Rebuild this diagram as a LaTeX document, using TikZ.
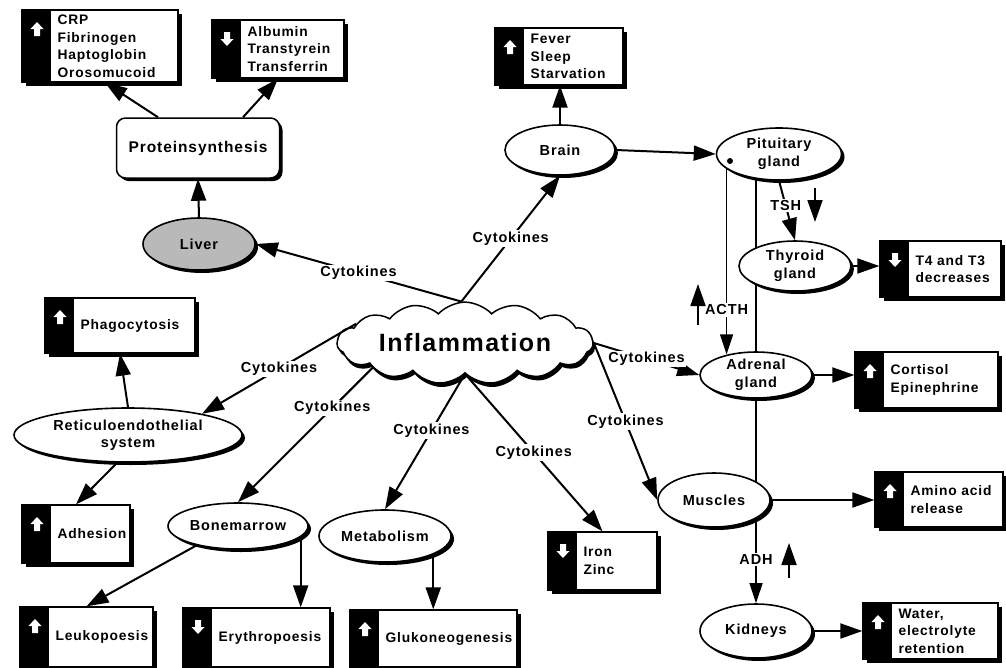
\documentclass[tikz,border=0pt]{standalone}
\usepackage{fontspec}
\setmainfont{Liberation Sans}[LetterSpace=6]
\usetikzlibrary{arrows.meta,shapes.geometric,shapes.symbols,shadows,fit,calc}
\pgfdeclarelayer{bg}
\pgfsetlayers{bg,main}
\tikzset{
  every node/.style={font=\bfseries\fontsize{14.5}{17.5}\selectfont},
  shad/.style={drop shadow={shadow xshift=3pt,shadow yshift=-3pt,opacity=1,fill=black}},
  organ/.style={ellipse, draw, line width=1.6pt, fill=white, shad, inner sep=0pt, align=center},
  sbox/.style={draw, line width=1.3pt, fill=white, inner sep=0pt,
    drop shadow={shadow xshift=4pt,shadow yshift=-4pt,opacity=1,fill=black}},
  conn/.style={line width=2pt, -{Triangle[length=22pt,width=15pt]}},
  thinconn/.style={line width=1.3pt, -{Triangle[length=20pt,width=13pt]}},
  lonearrow/.style={line width=1.8pt, -{Triangle[length=22pt,width=15pt]}},
  lbl/.style={fill=white, inner sep=1.5pt},
  btext/.style={align=left, inner sep=0pt, font=\bfseries\fontsize{13.8}{17.5}\selectfont},
}
\newcommand\upsym[2]{\fill[white] (#1-6.5,#2) -- (#1,#2-7) -- (#1+6.5,#2) -- (#1+3,#2) -- (#1+3,#2+7) -- (#1-3,#2+7) -- (#1-3,#2) -- cycle;}
\newcommand\downsym[2]{\fill[white] (#1-6.5,#2) -- (#1,#2+7) -- (#1+6.5,#2) -- (#1+3,#2) -- (#1+3,#2-7) -- (#1-3,#2-7) -- (#1-3,#2) -- cycle;}
\newcommand\statbox[7]{%
  \node[sbox, fit={(#2,#3)(#4,#5)}] (#1) {};
  \fill (#1.north west) rectangle ([xshift=30pt]#1.south west);
  #6{#2+15}{#3+19}
  \node[btext, anchor=west] at ([xshift=36pt]#1.west) {#7};
}
\begin{document}
\begin{tikzpicture}[x=1pt,y=-1pt]
\useasboundingbox (0,0) rectangle (1006,667);
\begin{pgfonlayer}{bg}
\fill[white] (0,0) rectangle (1006,667);
\end{pgfonlayer}

% central cloud
\node[cloud, cloud puffs=15, cloud puff arc=95, aspect=4, draw, line width=1.5pt, fill=white,
  minimum width=256pt, minimum height=66pt, inner sep=0pt,
  drop shadow={shadow xshift=2pt,shadow yshift=-4pt,opacity=1,fill=black},
  font=\bfseries\fontsize{25}{30}\selectfont] (cloud) at (465,343) {Inflammation};

% organs
\node[organ, minimum width=110pt, minimum height=50pt] (brain) at (560,150) {Brain};
\node[organ, minimum width=125pt, minimum height=52pt] (pit) at (779,154) {Pituitary\\gland};
\node[organ, minimum width=112pt, minimum height=50pt] (thy) at (795,266) {Thyroid\\gland};
\node[organ, minimum width=112pt, minimum height=46pt] (adr) at (756,375) {Adrenal\\gland};
\node[organ, minimum width=112pt, minimum height=54pt] (mus) at (714,500) {Muscles};
\node[organ, minimum width=112pt, minimum height=54pt] (kid) at (756,631) {Kidneys};
\node[organ, minimum width=228pt, minimum height=54pt] (res) at (128,435) {Reticuloendothelial\\system};
\node[organ, minimum width=140pt, minimum height=46pt] (bm) at (238,526) {Bonemarrow};
\node[organ, minimum width=132pt, minimum height=52pt] (met) at (385,536) {Metabolism};
\node[organ, fill=gray!55, minimum width=112pt, minimum height=52pt] (liver) at (199,244) {Liver};
\node[draw, line width=1.5pt, rounded corners=9pt, fill=white, shad,
  minimum width=163pt, minimum height=60pt, font=\bfseries\fontsize{15.5}{18}\selectfont] (prot) at (198,148) {Proteinsynthesis};
\fill (730,161) circle[radius=3pt];

% result boxes
\statbox{crp}{22}{10}{178}{82}{\upsym}{CRP\\Fibrinogen\\Haptoglobin\\Orosomucoid}
\statbox{alb}{212}{20}{344}{78}{\downsym}{Albumin\\Transtyrein\\Transferrin}
\statbox{fever}{495}{28}{623}{85}{\upsym}{Fever\\Sleep\\Starvation}
\statbox{t4}{880}{241}{1001}{297}{\downsym}{T4 and T3\\decreases}
\statbox{cort}{855}{352}{998}{408}{\upsym}{Cortisol\\Epinephrine}
\statbox{amino}{875}{472}{1003}{527}{\upsym}{Amino acid\\release}
\statbox{water}{863}{603}{998}{659}{\upsym}{Water,\\electrolyte\\retention}
\statbox{iron}{548}{532}{657}{590}{\downsym}{Iron\\Zinc}
\statbox{phag}{45}{298}{195}{353}{\upsym}{Phagocytosis}
\statbox{adh}{22}{505}{130}{563}{\upsym}{Adhesion}
\statbox{leuko}{20}{607}{153}{667}{\upsym}{Leukopoesis}
\statbox{ery}{183}{608}{330}{667}{\downsym}{Erythropoesis}
\statbox{gluk}{350}{610}{517}{667}{\upsym}{Glukoneogenesis}

% background line through the endocrine organs
\begin{pgfonlayer}{bg}
\draw[line width=1.3pt] (adr.center |- pit.center) -- (adr.center |- mus.center);
\draw[thinconn] (adr.center |- mus.center) -- node[lbl, pos=0.58]{ADH} (kid.north);
\end{pgfonlayer}

% connectors
\draw[conn] (liver.north) -- (prot.south);
\draw[conn] ([xshift=-40pt]prot.north) -- ([xshift=5pt]crp.south);
\draw[conn] ([xshift=45pt]prot.north) -- (alb.south);
\draw[conn] (brain.north) -- (brain.north |- fever.south);
\draw[conn] (brain.east) -- (pit.west);
\draw[thinconn] (pit.196) -- node[lbl, pos=0.76]{ACTH} (pit.196 |- adr.144);
\draw[conn] (pit.south) -- node[lbl, pos=0.42]{TSH} (thy.north);
\draw[conn] (thy.east) -- (thy.east -| t4.west);
\draw[conn] (adr.east) -- (adr.east -| cort.west);
\draw[conn] (mus.east) -- (mus.east -| amino.west);
\draw[conn] (kid.east) -- (water.west);
\draw[conn] (res.north) -- (phag.south);
\draw[conn] ([xshift=-11pt]res.south) -- (adh.north);
\draw[conn] (bm.205) -- (leuko.north);
\draw[conn] (bm.350) -- (bm.350 |- ery.north);
\draw[conn] (met.339) -- (met.339 |- gluk.north);

\draw[conn] (cloud.95) -- node[lbl]{Cytokines} (liver.east);
\draw[conn] (cloud.95) -- node[lbl]{Cytokines} (brain.south);
\draw[conn] (cloud.170) -- node[lbl]{Cytokines} (res.16);
\draw[conn] (cloud.195) -- node[lbl, pos=0.3]{Cytokines} (bm.north);
\draw[conn] (cloud.south) -- node[lbl, pos=0.42]{Cytokines} (met.north);
\draw[conn] (cloud.south) -- node[lbl]{Cytokines} (iron.north);
\draw[conn] (cloud.east) -- node[lbl]{Cytokines} (adr.west);
\draw[conn] (cloud.east) -- node[lbl]{Cytokines} (mus.west);

% standalone trend arrows
\draw[lonearrow] (698,325) -- (698,284);
\draw[lonearrow] (815,188) -- (815,222);
\draw[lonearrow] (789,578) -- (789,543);
\end{tikzpicture}
\end{document}
